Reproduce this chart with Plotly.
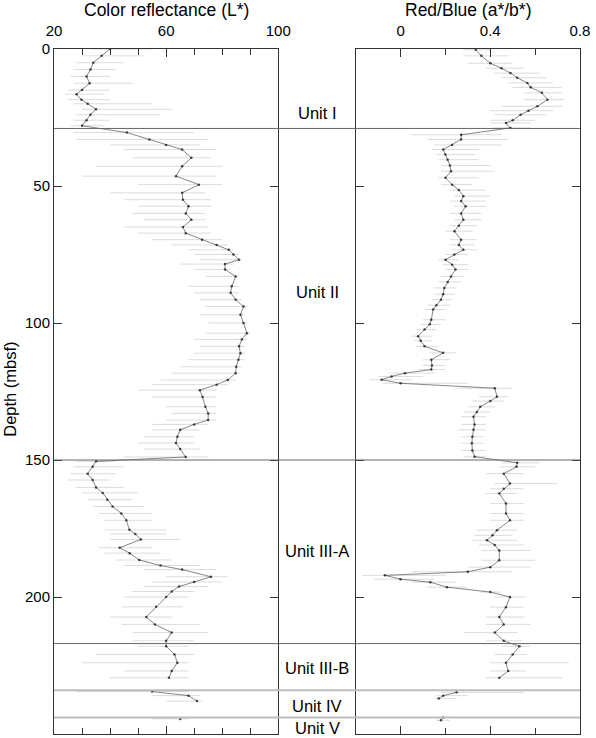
import plotly.graph_objects as go

# ---------------- data ----------------
depth_L = [0, 2.5, 5, 7.5, 10, 12.5, 15, 16.5, 18.5, 20, 22, 24, 26, 28,
           30.5, 33, 35, 36.7, 39.7, 42.8, 46.4, 49.5, 52.5, 55, 57.4, 60, 62.3, 65, 67.2, 69.6,
           71.5, 73.3, 75, 76.9, 78.5, 80.5, 83, 86.6, 89, 91.5, 94, 97, 100, 103.7, 106, 108.5,
           111, 113.4, 116, 118.3, 120.8, 122.5, 124.5, 127, 130.6, 133, 135.4, 137, 139, 141.5,
           143.8, 146, 148.9,
           150.5, 152.5, 155, 157.3, 160, 162, 164.5, 167, 169.5, 172, 175.5, 177, 179, 182, 184,
           186.5, 188.5, 190, 192.6, 194.5, 196.2, 198, 200, 203.6, 207.3, 210, 213, 216,
           218, 221, 224, 227, 229.5, None, 234.5, 236, 238, None, 244.5]
lstar = [40, 37, 34, 33, 31.6, 32.7, 30, 28, 29.8, 32, 35, 33, 31.6, 30,
         46, 54, 60, 65.7, 69, 65.7, 63.5, 71.7, 65.7, 66, 68, 67, 69, 66, 67, 72.8,
         78, 82.3, 84, 86, 81, 81, 84.8, 83.4, 83, 84.8, 87.6, 86.5, 87.6, 88.8, 87, 86,
         86.5, 85.8, 85, 84.8, 82, 78, 72, 73, 74, 75, 75, 70, 65, 64,
         63.5, 65, 67,
         35, 33.8, 32, 33.8, 35, 37.4, 39, 40.9, 44, 45.8, 46.9, 49, 51, 43.4, 47,
         50.4, 58, 65.7, 76, 70, 64.6, 62, 60, 56.4, 52.9, 56, 62, 60,
         60, 63, 64, 62, 61, None, 55, 68, 71, None, 65]
lstar_lo = [33, 30, 28, 27, 26, 27, 25, 24, 25, 27, 30, 28, 27, 26,
            27, 28, 40, 45, 48, 35, 30, 50, 40, 45, 50, 48, 52, 45, 50, 55,
            62, 68, 70, 72, 65, 70, 74, 68, 70, 72, 74, 72, 75, 74, 70, 72,
            70, 68, 65, 62, 58, 55, 50, 55, 60, 62, 60, 55, 55, 52,
            50, 52, 45,
            28, 27, 26, 25, 28, 30, 32, 34, 36, 38, 38, 40, 40, 36, 38,
            42, 45, 52, 60, 55, 52, 48, 45, 44, 40, 44, 48, 48,
            50, 35, 30, 45, 40, None, 28, 55, 60, None, 55]
lstar_hi = [55, 52, 45, 42, 40, 48, 40, 38, 40, 55, 62, 58, 40, 38,
            70, 75, 72, 78, 76, 80, 78, 80, 74, 76, 76, 74, 74, 75, 76, 80,
            82, 84, 86, 87, 84, 83, 86, 86, 86, 87, 89, 88, 89, 90, 89, 88,
            88, 88, 87, 86, 85, 82, 78, 78, 78, 78, 78, 75, 72, 70,
            70, 72, 75,
            42, 45, 42, 40, 45, 50, 48, 52, 55, 55, 60, 60, 65, 55, 58,
            62, 72, 78, 82, 80, 75, 70, 68, 66, 62, 72, 75, 70,
            68, 70, 68, 68, 68, None, 68, 72, 73, None, 68]

depth_R = [0.3, 2.5, 5.2, 7, 8.8, 10.5, 12.4, 14, 16, 18.5, 20.9, 22.5, 24, 26, 27, 28.8,
           31.3, 33, 35, 36.7, 38.5, 40.4, 42.5, 44.6, 47, 49.5, 51.5, 53.7, 55.5, 57.4, 60,
           62.3, 64.5, 66.5, 69.6, 71.5, 73.3, 75, 76.9, 78.7, 80.5, 83, 85, 87.2, 89.5, 91.5,
           93.5, 95.1, 98.8, 100.5, 102.4, 104.8, 106.5, 108.5, 110.9, 113.4, 115.5, 117, 118.3,
           119.5, 120.7, 122, 123.8, 126.9, 128.5, 130.6, 132.5, 134.2, 137, 139, 141.5, 143.9,
           146.5, 148.8,
           151, 152.5, 155, 158.6, 160.5, 162.2, 165.9, 169.5, 172, 175.6, 177.5, 179.3, 181, 183,
           186.6, 189.1, 190.8, 192.1, 193.5, 194.6, 196.4, 198.2, 200, 203.7, 207.3, 210, 213, 216,
           218, 221, 224, 227, 229.5, None, 234.8, 236, 237, None, 244, 245]
redblue = [0.335, 0.36, 0.40, 0.45, 0.49, 0.52, 0.565, 0.58, 0.63, 0.655, 0.61, 0.57, 0.535, 0.50, 0.47, 0.49,
           0.27, 0.27, 0.23, 0.19, 0.20, 0.21, 0.22, 0.225, 0.20, 0.23, 0.26, 0.28, 0.27, 0.29, 0.27,
           0.28, 0.26, 0.24, 0.27, 0.26, 0.28, 0.24, 0.20, 0.23, 0.245, 0.225, 0.21, 0.195, 0.19, 0.18,
           0.16, 0.145, 0.137, 0.13, 0.107, 0.078, 0.09, 0.107, 0.19, 0.137, 0.14, 0.137, 0.02,
           -0.04, -0.085, 0.0, 0.42, 0.43, 0.40, 0.355, 0.34, 0.325, 0.33, 0.325, 0.32, 0.318,
           0.32, 0.33,
           0.52, 0.517, 0.46, 0.488, 0.46, 0.44, 0.47, 0.47, 0.488, 0.43, 0.41, 0.385, 0.42, 0.44,
           0.44, 0.40, 0.30, -0.07, 0.0, 0.133, 0.207, 0.40, 0.488, 0.47, 0.44, 0.46, 0.42, 0.46,
           0.53, 0.50, 0.47, 0.48, 0.44, None, 0.25, 0.19, 0.17, None, 0.19, 0.18]
redblue_lo = [0.28, 0.28, 0.30, 0.38, 0.42, 0.45, 0.48, 0.50, 0.55, 0.55, 0.45, 0.40, 0.42, 0.40, 0.40, 0.42,
              0.05, 0.12, 0.15, 0.14, 0.16, 0.17, 0.18, 0.18, 0.17, 0.18, 0.22, 0.24, 0.22, 0.24, 0.22,
              0.24, 0.22, 0.20, 0.22, 0.22, 0.23, 0.20, 0.17, 0.19, 0.20, 0.18, 0.17, 0.15, 0.15, 0.14,
              0.12, 0.11, 0.10, 0.09, 0.07, 0.05, 0.06, 0.07, 0.13, 0.10, 0.10, 0.08, -0.05,
              -0.10, -0.14, -0.08, 0.25, 0.35, 0.32, 0.30, 0.28, 0.27, 0.27, 0.26, 0.27, 0.27,
              0.27, 0.28,
              0.45, 0.44, 0.38, 0.42, 0.40, 0.38, 0.40, 0.40, 0.40, 0.34, 0.33, 0.32, 0.35, 0.36,
              0.36, 0.30, 0.05, -0.17, -0.12, 0.05, 0.12, 0.35, 0.42, 0.40, 0.38, 0.38, 0.28, 0.38,
              0.45, 0.42, 0.40, 0.40, 0.38, None, 0.18, 0.16, 0.15, None, 0.17, 0.16]
redblue_hi = [0.40, 0.48, 0.50, 0.55, 0.62, 0.65, 0.68, 0.72, 0.72, 0.73, 0.72, 0.68, 0.65, 0.60, 0.58, 0.58,
              0.45, 0.48, 0.45, 0.35, 0.33, 0.35, 0.40, 0.42, 0.35, 0.32, 0.38, 0.40, 0.38, 0.38, 0.36,
              0.36, 0.34, 0.32, 0.34, 0.33, 0.34, 0.30, 0.26, 0.30, 0.30, 0.28, 0.27, 0.25, 0.24, 0.23,
              0.22, 0.20, 0.20, 0.18, 0.16, 0.14, 0.14, 0.17, 0.25, 0.22, 0.20, 0.20, 0.15,
              0.10, 0.05, 0.30, 0.50, 0.48, 0.46, 0.42, 0.40, 0.38, 0.38, 0.38, 0.37, 0.37,
              0.38, 0.38,
              0.62, 0.60, 0.55, 0.70, 0.55, 0.52, 0.55, 0.55, 0.55, 0.52, 0.50, 0.52, 0.55, 0.58,
              0.60, 0.58, 0.50, 0.20, 0.15, 0.25, 0.30, 0.45, 0.56, 0.55, 0.55, 0.58, 0.52, 0.54,
              0.58, 0.56, 0.75, 0.56, 0.72, None, 0.55, 0.30, 0.25, None, 0.24, 0.22]

unit_names = ["Unit I", "Unit II", "Unit III-A", "Unit III-B", "Unit IV", "Unit V"]
unit_label_depth = [23.4, 88.7, 183.2, 226.0, 239.8, 247.8]
boundary_depth = [29, 150, 217, 234, 244]

x1_ticks = [20, 60, 100]
x2_ticks = [0, 0.4, 0.8]
y_ticks = [0, 50, 100, 150, 200]


def spreads(core, lo, hi):
    plus, minus = [], []
    for c, l, h in zip(core, lo, hi):
        if c is None:
            plus.append(None)
            minus.append(None)
        else:
            plus.append(h - c)
            minus.append(c - l)
    return plus, minus


FONT = "Liberation Sans, Arial, Helvetica, sans-serif"
fig = go.Figure()

for xs, lo, hi, ys, xa, ya in [
    (lstar, lstar_lo, lstar_hi, depth_L, "x", "y"),
    (redblue, redblue_lo, redblue_hi, depth_R, "x2", "y2"),
]:
    p, m = spreads(xs, lo, hi)
    fig.add_trace(go.Scatter(
        x=xs, y=ys, xaxis=xa, yaxis=ya, mode="markers",
        marker=dict(size=1, color="rgba(0,0,0,0)"),
        error_x=dict(type="data", symmetric=False, array=p, arrayminus=m,
                     color="rgba(0,0,0,0.14)", thickness=1, width=0),
        showlegend=False, hoverinfo="skip"))
    fig.add_trace(go.Scatter(
        x=xs, y=ys, xaxis=xa, yaxis=ya, mode="lines+markers",
        line=dict(color="rgba(40,40,40,0.7)", width=0.8),
        marker=dict(size=2.5, color="rgba(20,20,20,0.75)"),
        connectgaps=False, showlegend=False))

common_x = dict(side="top", showline=True, linecolor="#333", linewidth=1, mirror="ticks",
                ticks="inside", ticklen=8, tickcolor="#333", showgrid=False, zeroline=False,
                ticklabelstandoff=6,
                tickfont=dict(family=FONT, size=15, color="#000"))
common_y = dict(range=[250, 0], showline=True, linecolor="#333", linewidth=1, mirror="ticks",
                ticks="inside", ticklen=8, tickcolor="#333", showgrid=False, zeroline=False,
                tickvals=y_ticks, tickfont=dict(family=FONT, size=15, color="#000"))

fig.update_layout(
    width=596, height=738,
    margin=dict(l=54, r=12, t=49, b=3),
    paper_bgcolor="white", plot_bgcolor="white",
    xaxis=dict(domain=[0, 0.4264], anchor="y", range=[20, 100], tickvals=x1_ticks,
               minor=dict(dtick=10, tick0=0, ticks="inside", ticklen=6, tickcolor="#333"),
               **common_x),
    xaxis2=dict(domain=[0.5736, 1], anchor="y2", range=[-0.2, 0.8], tickvals=x2_ticks,
                minor=dict(dtick=0.2, tick0=0, ticks="inside", ticklen=6, tickcolor="#333"),
                **common_x),
    yaxis=dict(domain=[0, 1], anchor="x", **common_y),
    yaxis2=dict(domain=[0, 1], anchor="x2", matches="y", showticklabels=False,
                **{k: v for k, v in common_y.items() if k != "tickfont"}),
)

for i, d in enumerate(boundary_depth):
    light = i >= 3
    fig.add_shape(type="line", xref="paper", yref="y", x0=0, x1=1, y0=d, y1=d,
                  line=dict(color="#bdbdbd" if light else "#666", width=2 if light else 1))

for name, d in zip(unit_names, unit_label_depth):
    fig.add_annotation(text=name, xref="paper", yref="y", x=0.5, y=d, showarrow=False,
                       font=dict(family=FONT, size=16.5, color="#000"),
                       xanchor="center", yanchor="middle")

fig.add_annotation(text="Color reflectance (L*)", xref="paper", yref="paper", x=0.213, y=1.057,
                   xanchor="center", yanchor="middle",
                   showarrow=False, font=dict(family=FONT, size=17.5, color="#000"))
fig.add_annotation(text="Red/Blue (a*/b*)", xref="paper", yref="paper", x=0.787, y=1.057,
                   xanchor="center", yanchor="middle",
                   showarrow=False, font=dict(family=FONT, size=17.5, color="#000"))
fig.add_annotation(text="Depth (mbsf)", xref="paper", yref="paper", x=-0.083, y=0.503,
                   xanchor="center", yanchor="middle",
                   textangle=-90, showarrow=False, font=dict(family=FONT, size=16.5, color="#000"))

# remove the browser's default 8px body margin so the figure fills the window exactly
fig.write_html("out.html", config={"displayModeBar": False},
               post_script="document.body.style.margin='0';")
